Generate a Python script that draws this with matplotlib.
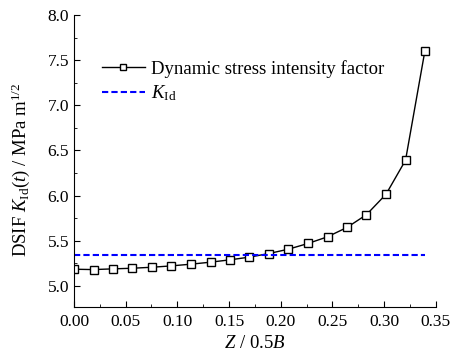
import numpy as np
import matplotlib
matplotlib.use("Agg")
import matplotlib.pyplot as plt
from matplotlib.ticker import MultipleLocator, FormatStrFormatter

plt.rcParams['font.family'] = 'Liberation Serif'
plt.rcParams['mathtext.fontset'] = 'custom'
plt.rcParams['mathtext.rm'] = 'Liberation Serif'
plt.rcParams['mathtext.it'] = 'Liberation Serif:italic'

# DATA
z = [0.0, 0.0189, 0.0377, 0.0566, 0.0755, 0.0943, 0.1132, 0.1321, 0.1509, 0.1698,
     0.1887, 0.2075, 0.2264, 0.2453, 0.2642, 0.2830, 0.3019, 0.3208, 0.3396]
dsif = [5.185, 5.181, 5.189, 5.196, 5.207, 5.222, 5.241, 5.263, 5.289, 5.319,
        5.359, 5.407, 5.470, 5.544, 5.648, 5.789, 6.015, 6.392, 7.607]
k_id = 5.344

fig = plt.figure(figsize=(4.55, 3.58), dpi=100)
ax = fig.add_axes([0.1626, 0.1433, 0.795, 0.8147])

ax.plot(z, dsif, color='black', lw=1.0, marker='s', ms=6, mfc='white', mec='black',
        mew=1.0, label='Dynamic stress intensity factor')
ax.plot([z[0], z[-1]], [k_id, k_id], color='blue', ls='--', lw=1.5, dashes=(3, 1.5),
        label=r'$K_{\rm Id}$')

ax.set_xlim(0, 0.35)
ax.set_ylim(4.77, 8.0)
ax.xaxis.set_major_locator(MultipleLocator(0.05))
ax.xaxis.set_minor_locator(MultipleLocator(0.025))
ax.yaxis.set_major_locator(MultipleLocator(0.5))
ax.yaxis.set_minor_locator(MultipleLocator(0.25))
ax.xaxis.set_major_formatter(FormatStrFormatter('%.2f'))
ax.yaxis.set_major_formatter(FormatStrFormatter('%.1f'))
ax.spines['top'].set_visible(False)
ax.spines['right'].set_visible(False)
ax.tick_params(which='both', direction='in', labelsize=12.5)
ax.tick_params(which='major', length=4.5)
ax.tick_params(which='minor', length=2.3)
ax.tick_params(axis='x', which='major', pad=5.5)

ax.set_xlabel(r'$Z$ / 0.5$B$', fontsize=13.5, labelpad=3)
ax.set_ylabel(r'DSIF $K_{\rm Id}(t)$ / MPa m$^{1/2}$', fontsize=13.5)
ax.yaxis.set_label_coords(-0.115, 0.47)

ax.legend(loc='upper left', bbox_to_anchor=(0.056, 0.872), frameon=False, fontsize=13.5,
          handlelength=2.3, handletextpad=0.35, labelspacing=0.3, borderaxespad=0,
          markerscale=0.75)

fig.savefig('out.png', dpi=100)
